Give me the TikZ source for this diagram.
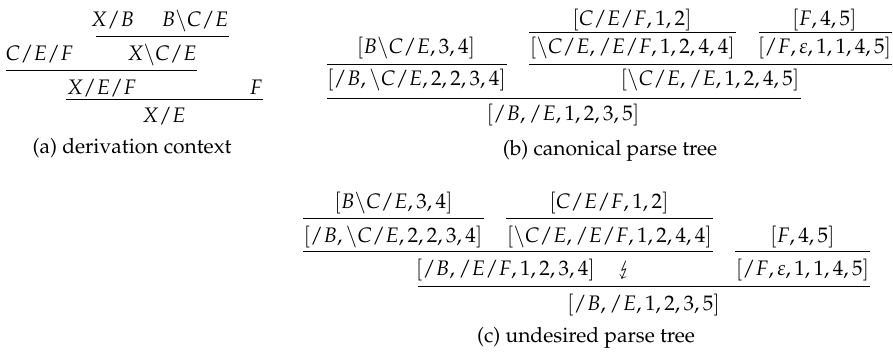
\documentclass[tikz,border=0pt]{standalone}
\usepackage[T1]{fontenc}
\usepackage{mathpazo}
\usepackage{stmaryrd}
\tikzset{
  lbl/.style={anchor=base, inner sep=0pt, font=\fontsize{21}{25}\selectfont},
  captxt/.style={anchor=base, inner sep=0pt, font=\fontsize{21}{25}\fontencoding{T1}\fontfamily{ppl}\selectfont},
  rulel/.style={line width=1pt}
}
\begin{document}
\begin{tikzpicture}[x=1pt,y=-1pt]
\useasboundingbox (0,0) rectangle (893,351);
% ---------- (a) ----------
\node[lbl] (a1) at (112.5,26) {$X/B$};
\node[lbl] (a2) at (195,26) {$B\backslash C/E$};
\draw[rulel] (96,36) -- (229,36);
\node[lbl] (a3) at (39.5,60) {$C/E/F$};
\node[lbl] (a4) at (162,60) {$X\backslash C/E$};
\draw[rulel] (6,70) -- (197,70);
\node[lbl] (a5) at (101.5,94) {$X/E/F$};
\node[lbl] (a6) at (256,94) {$F$};
\draw[rulel] (66,99) -- (263,99);
\node[lbl] (a7) at (164,122) {$X/E$};
\node[captxt] (ca) at (132,153) {(a) derivation context};
% ---------- (b) ----------
\node[lbl] (b1) at (632,25) {$[C/E/F,1,2]$};
\node[lbl] (b2) at (824.5,25) {$[F,4,5]$};
\draw[rulel] (529,32) -- (736,32);
\draw[rulel] (759,32) -- (892,32);
\node[lbl] (b3) at (416,53) {$[B\backslash C/E,3,4]$};
\node[lbl] (b4) at (632.5,53) {$[\backslash C/E,/E/F,1,2,4,4]$};
\node[lbl] (b5) at (824.5,53) {$[/F,\varepsilon,1,1,4,5]$};
\draw[rulel] (327,64) -- (507,64);
\draw[rulel] (529,64) -- (892,64);
\node[lbl] (b6) at (416.5,85) {$[/B,\backslash C/E,2,2,3,4]$};
\node[lbl] (b7) at (710,85) {$[\backslash C/E,/E,1,2,4,5]$};
\draw[rulel] (327,98) -- (801,98);
\node[lbl] (b8) at (563,120) {$[/B,/E,1,2,3,5]$};
\node[captxt] (cb) at (610,155) {(b) canonical parse tree};
% ---------- (c) ----------
\node[lbl] (c1) at (393.5,208) {$[B\backslash C/E,3,4]$};
\node[lbl] (c2) at (609,208) {$[C/E/F,1,2]$};
\draw[rulel] (303,218) -- (484,218);
\draw[rulel] (506,218) -- (713,218);
\node[lbl] (c3) at (393,242) {$[/B,\backslash C/E,2,2,3,4]$};
\node[lbl] (c4) at (609.5,242) {$[\backslash C/E,/E/F,1,2,4,4]$};
\node[lbl] (c5) at (802.5,242) {$[F,4,5]$};
\draw[rulel] (303,251.5) -- (713,251.5);
\draw[rulel] (735,251.5) -- (870,251.5);
\node[lbl] (c6) at (505.5,275) {$[/B,/E/F,1,2,3,4]$};
\node[lbl] (c7) at (625,275) {$\lightning$};
\node[lbl] (c8) at (802.5,275) {$[/F,\varepsilon,1,1,4,5]$};
\draw[rulel] (418,286) -- (870,286);
\node[lbl] (c9) at (643.5,310) {$[/B,/E,1,2,3,5]$};
\node[captxt] (cc) at (586,342) {(c) undesired parse tree};
\end{tikzpicture}
\end{document}
